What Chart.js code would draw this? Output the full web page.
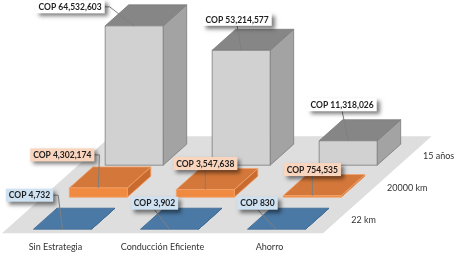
<!DOCTYPE html>
<html lang="es">
<head>
<meta charset="UTF-8">
<title>Costo por estrategia</title>
<script src="https://cdn.jsdelivr.net/npm/chart.js@4"></script>
<style>
  html, body { margin: 0; padding: 0; background: #fff; }
  #chart { display: block; }
</style>
</head>
<body>
<canvas id="chart" width="456" height="262"></canvas>
<script>
const categories = ["Sin Estrategia", "Conducción Eficiente", "Ahorro"];
const seriesLabels = ["22 km", "20000 km", "15 años"];
const cost22km = [4732, 3902, 830];
const cost20000km = [4302174, 3547638, 754535];
const cost15years = [64532603, 53214577, 11318026];

// one entry per series row (front to back)
const faceColors = [
  { top: "#4b79a5", front: "#43709b", side: "#3f6a93", edge: "#3d6892", label: "#cfe2f2" },
  { top: "#d4773a", front: "#f08a40", side: "#c96b2f", edge: "#f2a169", label: "#f9d5be" },
  { top: "#868686", front: "#d1d1d1", side: "#a3a3a3", edge: "#7c7c7c", label: "#ffffff" }
];
// label box centre, relative to the front-top centre of its box [row][category]
const labelOffsets = [
  [[-33, -34], [-15, -26], [-19, -26]],
  [[-36, -33], [0, -26], [0, -26]],
  [[-64, -19], [-4, -31], [-6, -36]]
];

const box3d = {
  id: "box3d",
  afterDatasetsDraw(chart) {
    const { ctx, chartArea: area, scales: { x, y } } = chart;
    const K = 1.12, ROW = 32, GAP = 4, DEPTH = 21, HALF = 29, SHIFT = 2.5;
    const y0 = area.bottom;
    const P = (u, d, h) => [u + K * d, y0 - d - (h || 0)];
    const poly = (pts, fill, stroke) => {
      ctx.beginPath();
      ctx.moveTo(pts[0][0], pts[0][1]);
      for (let k = 1; k < pts.length; k++) ctx.lineTo(pts[k][0], pts[k][1]);
      ctx.closePath();
      ctx.fillStyle = fill;
      ctx.fill();
      if (stroke) { ctx.strokeStyle = stroke; ctx.lineWidth = 0.8; ctx.stroke(); }
    };

    ctx.save();
    // floor
    const floorD = ROW * 3 + 1;
    poly([P(area.left, 0), P(area.right, 0), P(area.right, floorD), P(area.left, floorD)], "#dedede");

    // boxes, back row first
    const boxes = [];
    for (let j = chart.data.datasets.length - 1; j >= 0; j--) {
      const col = faceColors[j];
      chart.data.datasets[j].data.forEach((v, i) => {
        const c = x.getPixelForValue(i) + SHIFT;
        const h = y.getPixelForValue(0) - y.getPixelForValue(v);
        const dF = GAP + ROW * j, dB = dF + DEPTH;
        const u1 = c - HALF, u2 = c + HALF;
        poly([P(u2, dF, 0), P(u2, dB, 0), P(u2, dB, h), P(u2, dF, h)], col.side, col.edge);
        poly([P(u1, dF, h), P(u2, dF, h), P(u2, dB, h), P(u1, dB, h)], col.top, col.edge);
        if (h > 0.5) poly([P(u1, dF, 0), P(u2, dF, 0), P(u2, dF, h), P(u1, dF, h)], col.front, col.edge);
        boxes.push({ anchor: P(c, dF, h), v, i, j });
      });
    }

    // series names along the depth axis
    ctx.font = "9px Lato";
    ctx.fillStyle = "#333";
    ctx.textAlign = "left";
    ctx.textBaseline = "middle";
    chart.data.datasets.forEach((ds, j) => {
      const d = GAP + ROW * j + DEPTH / 2;
      const [px, py] = P(area.right, d);
      ctx.fillText(ds.label, px + 12, py + 1);
    });

    // data labels with leader lines
    ctx.font = "bold 8.5px Lato";
    boxes.forEach(b => {
      const text = "COP " + b.v.toLocaleString("en-US");
      const w = ctx.measureText(text).width + 6, hgt = 13;
      const [ax, ay] = b.anchor;
      const [ox, oy] = labelOffsets[b.j][b.i];
      const cx = ax + ox, cy = ay + oy;
      const left = cx - w / 2, top = cy - hgt / 2;

      ctx.strokeStyle = "#7f7f7f";
      ctx.lineWidth = 1;
      ctx.beginPath();
      if (Math.abs(ox) > w / 2) {
        const sx = ox < 0 ? left + w : left;
        const stub = ox < 0 ? sx + 5 : sx - 5;
        ctx.moveTo(sx, cy);
        ctx.lineTo(stub, cy);
        ctx.lineTo(ax, ay);
      } else {
        ctx.moveTo(cx, top + hgt);
        ctx.lineTo(ax, ay);
      }
      ctx.stroke();

      ctx.save();
      ctx.shadowColor = "rgba(0,0,0,0.5)";
      ctx.shadowBlur = 4;
      ctx.shadowOffsetX = 3;
      ctx.shadowOffsetY = 3;
      ctx.fillStyle = faceColors[b.j].label;
      ctx.fillRect(left, top, w, hgt);
      ctx.restore();

      ctx.fillStyle = "#1e1e1e";
      ctx.textAlign = "center";
      ctx.textBaseline = "middle";
      ctx.fillText(text, cx, cy + 0.5);
    });
    ctx.restore();
  }
};

new Chart(document.getElementById("chart"), {
  type: "bar",
  data: {
    labels: categories,
    datasets: [
      { label: seriesLabels[0], data: cost22km, backgroundColor: "rgba(0,0,0,0)" },
      { label: seriesLabels[1], data: cost20000km, backgroundColor: "rgba(0,0,0,0)" },
      { label: seriesLabels[2], data: cost15years, backgroundColor: "rgba(0,0,0,0)" }
    ]
  },
  options: {
    responsive: false,
    animation: false,
    devicePixelRatio: 1,
    layout: { padding: { left: 2, right: 133, top: 0, bottom: 2 } },
    plugins: { legend: { display: false }, tooltip: { enabled: false } },
    scales: {
      x: {
        grid: { display: false, drawTicks: false },
        border: { display: false },
        ticks: { color: "#333", font: { family: "Lato", size: 9 }, padding: 8, maxRotation: 0 }
      },
      y: { display: false, min: 0, max: 108000000 }
    }
  },
  plugins: [box3d]
});
</script>
</body>
</html>
